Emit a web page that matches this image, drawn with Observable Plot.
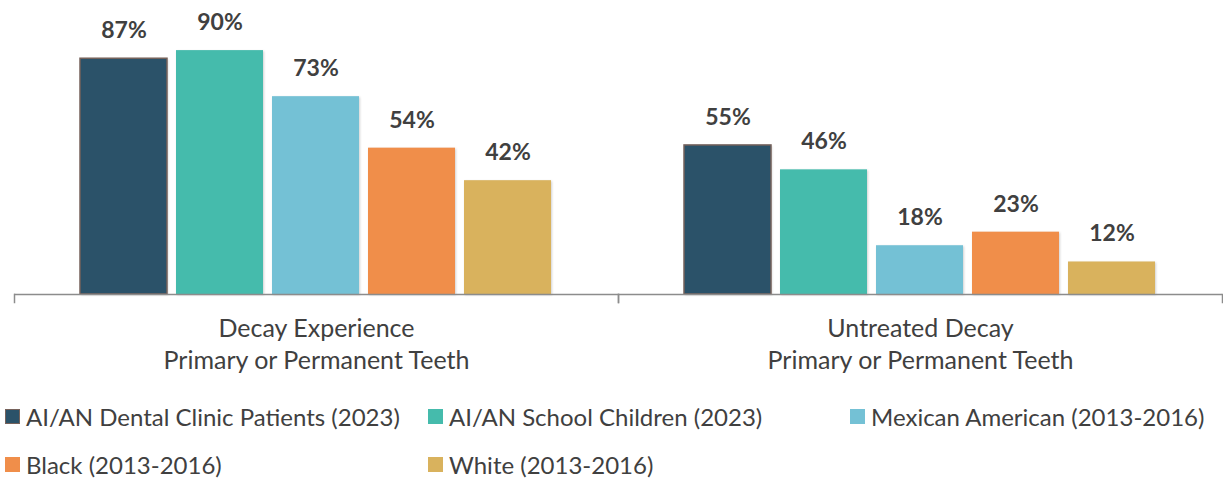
<!DOCTYPE html>
<html>
<head>
<meta charset="utf-8">
<script src="https://cdn.jsdelivr.net/npm/d3@7"></script>
<script src="https://cdn.jsdelivr.net/npm/@observablehq/plot@0.6"></script>
<style>
  html, body { margin: 0; padding: 0; background: #fff; }
  #wrap { position: relative; width: 1223px; height: 480px; font-family: Lato, "Open Sans", sans-serif; color: #404040; }
  #legend { position: absolute; left: 0; top: 385px; width: 1223px; height: 95px; }
  .item { position: absolute; display: flex; align-items: center; font-size: 24px; white-space: nowrap; }
  .sw { width: 15px; height: 15px; margin-right: 6px; box-sizing: border-box; }
  .bars rect { filter: drop-shadow(1px 1px 1px rgba(0,0,0,0.18)); }
</style>
</head>
<body>
<div id="wrap"><div id="chart"></div><div id="legend"></div></div>
<script>
const groups = ["Decay Experience\nPrimary or Permanent Teeth", "Untreated Decay\nPrimary or Permanent Teeth"];
const series = [
  "AI/AN Dental Clinic Patients (2023)",
  "AI/AN School Children (2023)",
  "Mexican American (2013-2016)",
  "Black (2013-2016)",
  "White (2013-2016)"
];
const decayExperience = [87, 90, 73, 54, 42];
const untreatedDecay = [55, 46, 18, 23, 12];
const colors = ["#2b5269", "#45bbac", "#74c1d5", "#f08e4a", "#d9b25d"];

const values = [decayExperience, untreatedDecay];
const rows = groups.flatMap((g, i) => series.map((s, j) => ({group: g, series: s, value: values[i][j]})));
const axisColor = "#8c8c8c";

const chart = Plot.plot({
  width: 1223,
  height: 385,
  marginTop: 23,
  marginBottom: 91,
  marginLeft: 13,
  marginRight: 1,
  style: {fontFamily: "Lato, 'Open Sans', sans-serif", color: "#404040", background: "#fff"},
  fx: {domain: groups, padding: 0, label: null},
  x: {domain: series, paddingInner: 0.09, paddingOuter: 0.668, axis: null},
  y: {domain: [0, 100], axis: null},
  color: {domain: series, range: colors},
  marks: [
    Plot.barY(rows, {fx: "group", x: "series", y: "value", fill: "series", className: "bars"}),
    Plot.barY(rows.filter(d => d.series === series[0]), {fx: "group", x: "series", y: "value", fill: "series", stroke: "#76625b", strokeWidth: 1.5}),
    Plot.ruleY([0], {stroke: axisColor, strokeWidth: 1.5}),
    Plot.frame({anchor: "left", insetTop: 271, insetBottom: -8, stroke: axisColor, strokeWidth: 1.5}),
    Plot.frame({anchor: "right", insetTop: 271, insetBottom: -8, stroke: axisColor, strokeWidth: 1.5}),
    Plot.text(rows, {fx: "group", x: "series", y: "value", text: d => d.value + "%", dy: -28, fontWeight: "bold", fontSize: 23, fill: "#404040"}),
    Plot.axisFx({anchor: "bottom", tickSize: 0, tickPadding: 20, fontSize: 25, lineHeight: 1.28, fill: "#404040", label: null})
  ]
});
document.getElementById("chart").appendChild(chart);

const legend = document.getElementById("legend");
const cols = [5, 428, 850];
series.forEach((s, i) => {
  const row = Math.floor(i / 3), col = i % 3;
  const item = document.createElement("div");
  item.className = "item";
  item.style.left = cols[col] + "px";
  item.style.top = (row === 0 ? 17 : 65) + "px";
  const sw = document.createElement("div");
  sw.className = "sw";
  sw.style.background = colors[i];
  if (i === 0) sw.style.border = "1.5px solid #76625b";
  const label = document.createElement("span");
  label.textContent = s;
  item.appendChild(sw);
  item.appendChild(label);
  legend.appendChild(item);
});
</script>
</body>
</html>
